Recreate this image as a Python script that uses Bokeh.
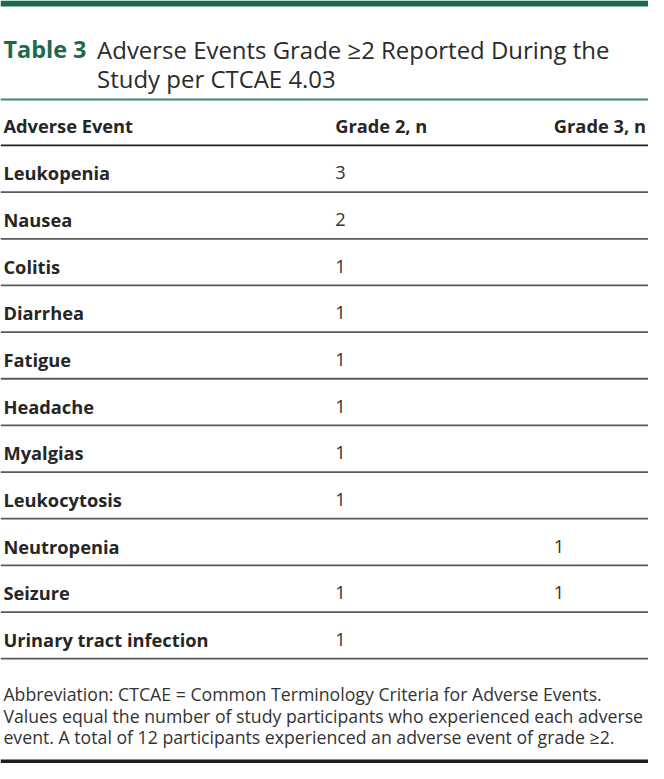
from bokeh.plotting import figure
from bokeh.models import Range1d
from bokeh.core.properties import value
from bokeh.embed import file_html
from bokeh.resources import INLINE

# ---- data ----
table_label = "Table 3"
title_lines = ["Adverse Events Grade \u22652 Reported During the", "Study per CTCAE 4.03"]
col_headers = ["Adverse Event", "Grade 2, n", "Grade 3, n"]
events = ["Leukopenia", "Nausea", "Colitis", "Diarrhea", "Fatigue", "Headache",
          "Myalgias", "Leukocytosis", "Neutropenia", "Seizure", "Urinary tract infection"]
grade2 = [3, 2, 1, 1, 1, 1, 1, 1, None, 1, 1]
grade3 = [None, None, None, None, None, None, None, None, 1, 1, None]
footnotes = [
    "Abbreviation: CTCAE = Common Terminology Criteria for Adverse Events.",
    "Values equal the number of study participants who experienced each adverse",
    "event. A total of 12 participants experienced an adverse event of grade \u22652.",
]

# ---- layout (reference pixel space) ----
REF_W, REF_H = 664, 779
W, H = 648, 763
SC = (W / REF_W + H / REF_H) / 2

def fs(px):
    return f"{px * SC:.2f}px"

GREEN = "#1a6b4c"
TEXT = "#262626"
FONT = value("Open Sans")

p = figure(width=W, height=H, x_range=Range1d(0, REF_W), y_range=Range1d(REF_H, 0),
           output_backend="svg", toolbar_location=None, min_border=0)
p.axis.visible = False
p.grid.visible = False
p.outline_line_color = None
p.background_fill_color = "white"
p.border_fill_color = "white"

# top green bar
p.quad(left=[0], right=[REF_W], top=[0], bottom=[6], fill_color=GREEN, line_color=None)

# title
p.text(x=[3], y=[50], text=[table_label], text_font=FONT, text_font_style="bold",
       text_font_size=fs(24), text_color=GREEN, text_baseline="alphabetic")
p.text(x=[99, 99], y=[50, 80], text=title_lines, text_font=FONT,
       text_font_size=fs(24.5), text_color="#2b2b2b", text_baseline="alphabetic")

# header
col_x = [3, 343, 567]
p.segment(x0=[0], x1=[REF_W], y0=[101], y1=[101], line_color="#3d8a68", line_width=2)
p.text(x=col_x, y=[128] * 3, text=col_headers, text_font=FONT, text_font_style="bold",
       text_font_size=fs(18.7), text_color=TEXT, text_baseline="alphabetic")
p.segment(x0=[0], x1=[REF_W], y0=[148], y1=[148], line_color="#222222", line_width=1.8)

# rows
top = 148.0
row_h = (672.0 - 148.0) / len(events)
base_y = [top + i * row_h + 28 for i in range(len(events))]
line_y = [top + (i + 1) * row_h for i in range(len(events))]

p.text(x=[col_x[0]] * len(events), y=base_y, text=events, text_font=FONT,
       text_font_style="bold", text_font_size=fs(18.7), text_color=TEXT,
       text_baseline="alphabetic")
g2_y = [y for y, v in zip(base_y, grade2) if v is not None]
g2_t = [str(v) for v in grade2 if v is not None]
g3_y = [y for y, v in zip(base_y, grade3) if v is not None]
g3_t = [str(v) for v in grade3 if v is not None]
p.text(x=[col_x[1]] * len(g2_y), y=g2_y, text=g2_t, text_font=FONT,
       text_font_size=fs(18.7), text_color="#333333", text_baseline="alphabetic")
p.text(x=[col_x[2]] * len(g3_y), y=g3_y, text=g3_t, text_font=FONT,
       text_font_size=fs(18.7), text_color="#333333", text_baseline="alphabetic")
p.segment(x0=[0] * len(line_y), x1=[REF_W] * len(line_y), y0=line_y, y1=line_y,
          line_color="#5a5a5a", line_width=1.8)

# footnotes
p.text(x=[3] * 3, y=[708, 730, 752], text=footnotes, text_font=FONT,
       text_font_size=fs(18.1), text_color="#333333", text_baseline="alphabetic")
p.quad(left=[0], right=[REF_W], top=[775], bottom=[779], fill_color="#1e1e1e", line_color=None)

open("out.html", "w").write(file_html(p, INLINE))
